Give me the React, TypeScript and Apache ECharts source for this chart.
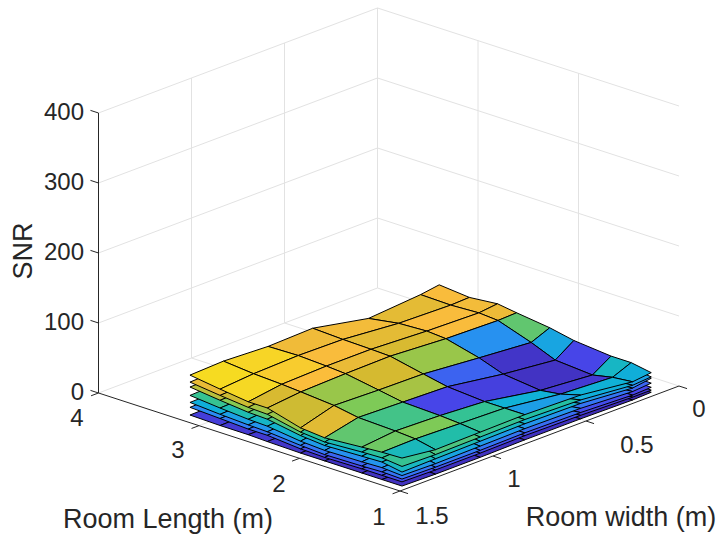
import React, { useEffect, useRef } from "react";
import * as echarts from "echarts";

// Measured room positions (m)
const LENGTHS = [3.09, 2.79, 2.51, 2.32, 1.99, 1.75, 1.38, 1.18, 0.98];
const WIDTHS = [1.5, 1.32, 1.08, 0.84, 0.54, 0.26, 0.16];

// SNR sheets, bottom to top; rows follow LENGTHS, columns follow WIDTHS
const SNR_F = [
  [11,12,11,11,10,10,10],[10,11,11,11,10,10,10],[10,10,11,11,10,10,10],[9,10,11,10,10,9,10],[8,10,9,9,8,8,9],
  [8,9,9,8,7,6,8],[8,9,8,8,6,6,8],[8,8,8,8,7,6,8],[8,7,7,8,8,7,8],
];
const SNR_E = [
  [22,23,22,22,18,19,20],[20,21,22,21,20,19,19],[18,20,21,21,20,19,19],[18,20,20,20,19,18,18],[14,18,18,17,15,14,16],
  [13,16,16,15,12,10,14],[14,16,15,14,10,9,13],[14,15,14,14,11,10,12],[14,13,13,14,13,11,11],
];
const SNR_D = [
  [29,30,29,29,24,25,27],[26,28,29,28,26,25,25],[24,27,28,28,26,25,26],[23,26,27,27,25,24,25],[19,24,23,23,20,18,22],
  [17,22,21,20,16,12,19],[18,21,20,19,13,11,17],[19,20,19,18,14,13,16],[18,17,17,18,17,14,15],
];
const SNR_C = [
  [39,41,39,39,32,34,36],[35,37,39,38,35,33,34],[32,36,38,37,35,34,35],[31,35,36,36,34,32,33],[25,32,31,31,27,24,29],
  [23,29,28,27,21,16,25],[24,28,27,25,17,14,23],[25,27,25,24,19,17,22],[23,22,23,24,23,19,21],
];
const SNR_B = [
  [51,52,51,50,41,44,46],[46,48,50,49,45,43,44],[42,47,49,48,46,44,45],[41,45,47,47,44,42,43],[33,42,41,40,35,31,38],
  [30,37,37,35,27,21,33],[32,37,35,33,22,18,30],[33,35,33,31,25,22,29],[28,29,30,31,30,24,28],
];
const SNR_A = [
  [58,60,58,59,48,50,52],[53,56,58,57,52,50,50],[49,55,57,56,53,51,53],[48,53,55,55,51,49,50],[38,49,48,47,41,36,45],
  [35,44,43,41,31,24,39],[38,43,41,38,26,21,35],[39,41,39,37,29,26,33],[36,35,36,37,35,28,30],
];
const SNR_TOP = [
  [68,70,67,69,53,59,63],[62,66,68,67,60,58,59],[57,64,66,66,62,60,63],[57,62,64,65,60,58,59],[44,58,56,55,48,42,53],
  [41,52,50,48,36,28,46],[45,50,48,44,30,24,41],[47,48,46,44,34,30,41],[48,42,43,44,42,33,36],
];
// Colour index of each cell of the top sheet (0..1 along the colormap)
const TOP_COLOR = [
  [0.98,0.96,0.84,0.85,0.80,0.87],
  [0.97,0.93,0.87,0.80,0.87,0.85],
  [0.76,0.88,0.82,0.76,0.87,0.83],
  [0.74,0.66,0.75,0.66,0.28,0.58],
  [0.79,0.62,0.68,0.18,0.06,0.34],
  [0.58,0.54,0.12,0.10,0.05,0.12],
  [0.60,0.62,0.52,0.38,0.08,0.42],
  [0.44,0.48,0.52,0.32,0.38,0.37],
];

const Z_TICKS = [0, 100, 200, 300, 400];
const L_TICKS = [1, 2, 3, 4];
const W_TICKS = [0, 0.5, 1, 1.5];

const PARULA = ["#3e26a8","#4746eb","#2e87f7","#0fb0d8","#25c0a0","#82ca54","#d5ba30","#fbbc3c","#f5e11c"];

function parula(t: number) {
  const v = Math.max(0, Math.min(1, t)) * (PARULA.length - 1);
  const k = Math.min(PARULA.length - 2, Math.floor(v));
  const f = v - k;
  const h = (s: string, o: number) => parseInt(s.substr(o, 2), 16);
  const mix = (o: number) => Math.round(h(PARULA[k], o) * (1 - f) + h(PARULA[k + 1], o) * f);
  return `rgb(${mix(1)},${mix(3)},${mix(5)})`;
}

function project(L: number, W: number, z: number): [number, number] {
  return [400 - 100.5 * (L - 1) + 186 * (1.5 - W), 491 - 32.67 * (L - 1) - 70 * (1.5 - W) - 0.7 * z];
}

const FONT = "Liberation Sans";
const INK = "#262626";
const GRID = "#e2e2e2";

export default function App() {
  const ref = useRef<HTMLDivElement>(null);
  useEffect(() => {
    if (!ref.current) return;
    document.body.style.margin = "0";
    const chart = echarts.init(ref.current, undefined, { renderer: "svg" });

    type Seg = [number, number, number, number, number, number, string, number];
    const segs: Seg[] = [];
    const g = (a: number[], b: number[], c: string, w = 1) => segs.push([a[0], a[1], a[2], b[0], b[1], b[2], c, w]);
    for (const z of Z_TICKS) {
      g([4, 1.5, z], [4, 0, z], GRID);
      g([4, 0, z], [1, 0, z], GRID);
    }
    for (const w of [1, 0.5, 0]) g([4, w, 0], [4, w, 400], GRID);
    for (const l of [3, 2]) g([l, 0, 0], [l, 0, 400], GRID);
    for (const w of [1, 0.5]) g([4, w, 0], [1, w, 0], GRID);
    for (const l of [3, 2]) g([l, 1.5, 0], [l, 0, 0], GRID);

    const axisSegs: Seg[] = [];
    const ax = (a: number[], b: number[]) => axisSegs.push([a[0], a[1], a[2], b[0], b[1], b[2], INK, 1]);
    ax([4, 1.5, 0], [4, 1.5, 400]);
    ax([4, 1.5, 0], [1, 1.5, 0]);
    ax([1, 1.5, 0], [1, 0, 0]);
    for (const z of Z_TICKS) ax([4, 1.5, z], [4.08, 1.5, z]);
    for (const l of L_TICKS) ax([l, 1.5, 0], [l, 1.54, 0]);
    for (const w of W_TICKS) ax([1, w, 0], [0.92, w, 0]);

    const segSeries = (data: Seg[]) => ({
      type: "custom",
      coordinateSystem: "cartesian2d",
      silent: true,
      clip: false,
      data,
      renderItem: (_: any, api: any) => {
        const a = api.coord(project(api.value(0), api.value(1), api.value(2)));
        const b = api.coord(project(api.value(3), api.value(4), api.value(5)));
        return {
          type: "line",
          shape: { x1: a[0], y1: a[1], x2: b[0], y2: b[1] },
          style: { stroke: api.value(6), lineWidth: api.value(7) },
        };
      },
      encode: { x: 0, y: 1 },
    });

    const sheetSeries = (zs: number[][], colors?: number[][]) => {
      const data: number[][] = [];
      for (let i = 0; i < LENGTHS.length - 1; i++) {
        for (let j = WIDTHS.length - 2; j >= 0; j--) {
          const c = colors ? colors[i][j] : (zs[i][j] - 5) / 65;
          data.push([
            LENGTHS[i], WIDTHS[j], zs[i][j],
            LENGTHS[i], WIDTHS[j + 1], zs[i][j + 1],
            LENGTHS[i + 1], WIDTHS[j + 1], zs[i + 1][j + 1],
            LENGTHS[i + 1], WIDTHS[j], zs[i + 1][j],
            c,
          ]);
        }
      }
      return {
        type: "custom",
        coordinateSystem: "cartesian2d",
        silent: true,
        clip: false,
        data,
        encode: { x: 0, y: 1 },
        renderItem: (_: any, api: any) => {
          const pts = [0, 3, 6, 9].map((o) =>
            api.coord(project(api.value(o), api.value(o + 1), api.value(o + 2)))
          );
          return {
            type: "polygon",
            shape: { points: pts },
            style: { fill: parula(api.value(12)), stroke: "#000", lineWidth: 1, lineJoin: "round" },
          };
        },
      };
    };

    const text = (s: string, x: number, y: number, align = "center", rotation = 0, size = 24) => ({
      type: "text",
      x,
      y,
      rotation,
      silent: true,
      style: { text: s, fill: INK, font: `${size}px "${FONT}"`, textAlign: align, textVerticalAlign: "middle" },
    });

    chart.setOption({
      animation: false,
      grid: { left: 0, top: 0, width: 720, height: 538, show: false },
      xAxis: { type: "value", min: 0, max: 720, show: false },
      yAxis: { type: "value", min: 0, max: 538, inverse: true, show: false },
      series: [
        segSeries(segs),
        segSeries(axisSegs),
        sheetSeries(SNR_F),
        sheetSeries(SNR_E),
        sheetSeries(SNR_D),
        sheetSeries(SNR_C),
        sheetSeries(SNR_B),
        sheetSeries(SNR_A),
        sheetSeries(SNR_TOP, TOP_COLOR),
      ],
      graphic: [
        ...Z_TICKS.map((z) => text(String(z), 84, project(4, 1.5, z)[1] - 1, "right")),
        text("4", 77, 417), text("3", 178, 449), text("2", 279, 483), text("1", 379, 516),
        text("1.5", 432, 515), text("1", 514, 478), text("0.5", 637, 444), text("0", 699, 408),
        text("SNR", 23, 251, "center", Math.PI / 2, 27),
        text("Room Length (m)", 168, 519, "center", 0, 27),
        text("Room width (m)", 621, 517, "center", 0, 27),
      ],
    });
    return () => chart.dispose();
  }, []);
  return <div ref={ref} style={{ position: "absolute", left: 0, top: 0, width: 720, height: 538 }} />;
}
